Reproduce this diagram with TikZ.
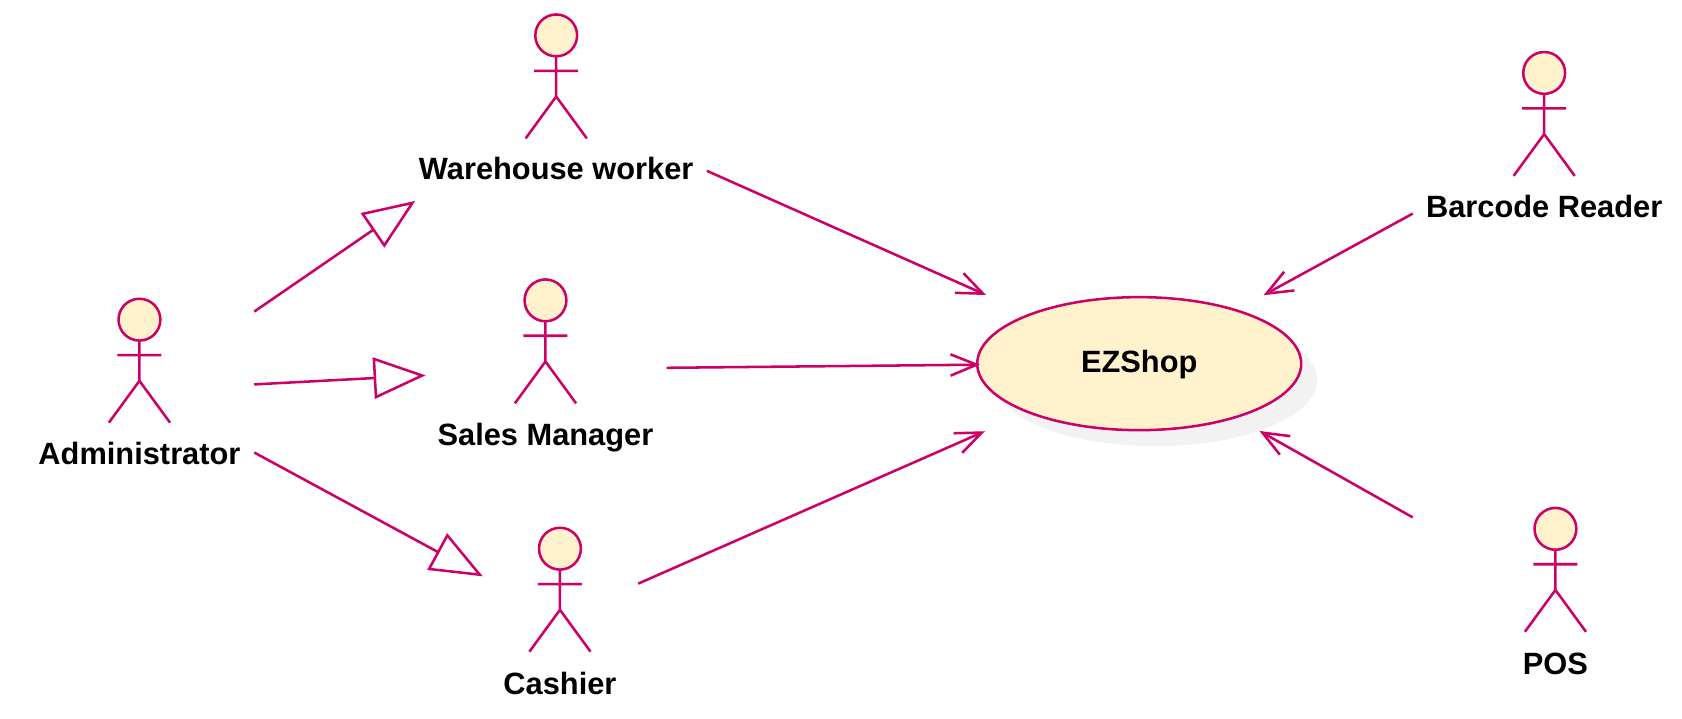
\documentclass[tikz,border=0pt]{standalone}
\usepackage{fontspec}
\setmainfont{Liberation Sans}
\usetikzlibrary{arrows.meta,shapes.geometric}
\definecolor{umlline}{HTML}{CC0066}
\definecolor{umlfill}{HTML}{FFF2CC}
\definecolor{umlshadow}{HTML}{F2F2F2}
\newcommand{\dpx}{0.8045pt}
\tikzset{
  actorbox/.style={inner sep=0pt,outer sep=0pt},
  actorname/.style={font=\fontsize{23.1}{27}\selectfont\bfseries,inner sep=0pt,text height=16pt,text depth=0pt},
  usecase/.style={ellipse,draw=umlline,fill=umlfill,line width=1.9pt,inner sep=0pt,outer sep=0pt,
    minimum width=302*\dpx,minimum height=124*\dpx},
  uses/.style={draw=umlline,line width=1.9pt,shorten >=-2pt,-{Straight Barb[length=19.5pt,width=16pt]}},
  extends/.style={draw=umlline,line width=1.9pt,shorten >=-1pt,-{Triangle[open,length=39pt,width=31pt]}},
  pics/stickman/.style={code={
    \draw[umlline,line width=1.9pt,fill=umlfill] (0,0) circle (19.5*\dpx);
    \draw[umlline,line width=1.9pt] (0,19.5)--(0,57) (-20.5,33)--(20.5,33) (-28.5,96)--(0,57)--(28.5,96);
  }}
}
\begin{document}
\begin{tikzpicture}[x=0.8045pt,y=-0.8045pt]
  \useasboundingbox (0,-1) rectangle (1568,669);
  % actors
  \foreach \px/\py in {518.5/32,130/297,508.5/279,522/510.5,1439.5/67,1450/492}
    \pic at (\px,\py) {stickman};
  \node[actorname] (warehouselabel) at (518.5,156) {Warehouse worker};
  \node[actorname] (adminlabel) at (130,422.5) {Administrator};
  \node[actorname] (saleslabel) at (508.5,404.5) {Sales Manager};
  \node[actorname] (cashierlabel) at (522,636.5) {Cashier};
  \node[actorname] (barcodelabel) at (1439.5,192) {Barcode Reader};
  \node[actorname] (poslabel) at (1450,617.5) {POS};
  % boxes the connectors stop at
  \node[actorbox,minimum width=281*\dpx,minimum height=182*\dpx] (warehouse) at (518.5,96) {};
  \node[actorbox,minimum width=214*\dpx,minimum height=182*\dpx] (admin) at (130,363) {};
  \node[actorbox,minimum width=226*\dpx,minimum height=182*\dpx] (sales) at (508.5,343) {};
  \node[actorbox,minimum width=146*\dpx,minimum height=182*\dpx] (cashier) at (522,575) {};
  \node[actorbox,minimum width=245*\dpx,minimum height=182*\dpx] (barcode) at (1439.5,131.5) {};
  \node[actorbox,minimum width=266*\dpx,minimum height=182*\dpx] (pos) at (1450,556) {};
  % use case
  \fill[umlshadow] (1077,353) ellipse [x radius=151,y radius=62];
  \node[usecase,actorname,text height=13pt] (ezshop) at (1062,338) {EZShop};
  \node[actorbox,minimum width=302*\dpx,minimum height=129*\dpx] (ezbox) at (1062,337.5) {};
  % connectors
  \draw[extends] (admin)--(warehouse);
  \draw[extends] (admin)--(sales);
  \draw[extends] (admin)--(cashier);
  \draw[uses] (warehouse)--(ezbox);
  \draw[uses] (sales)--(ezbox);
  \draw[uses] (cashier)--(ezbox);
  \draw[uses] (barcode)--(ezbox);
  \draw[uses] (pos)--(ezbox);
\end{tikzpicture}
\end{document}
